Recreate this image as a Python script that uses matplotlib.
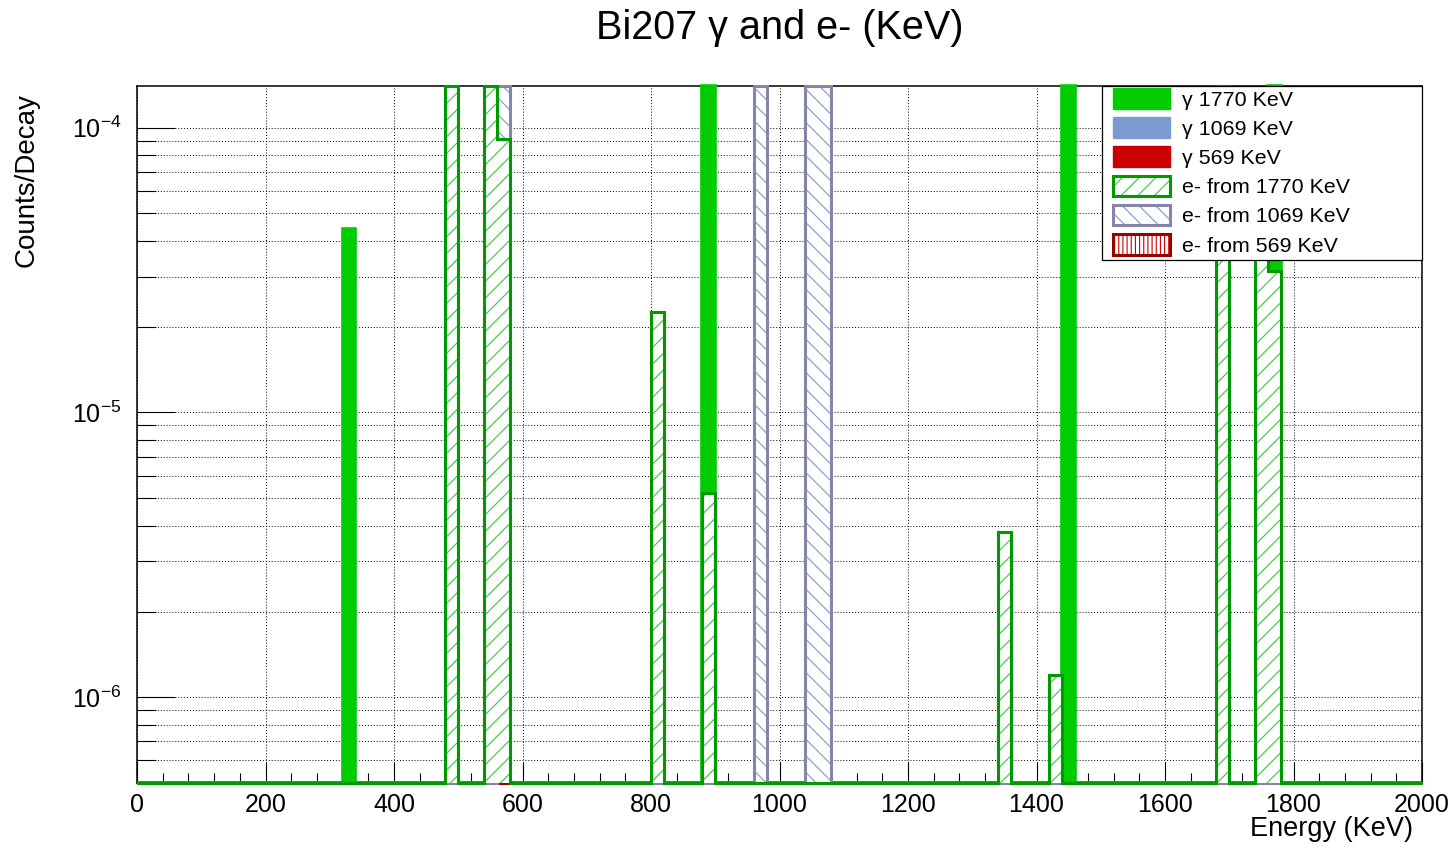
import numpy as np
import matplotlib.pyplot as plt
from matplotlib.patches import Patch, Rectangle
from matplotlib.legend_handler import HandlerTuple
from matplotlib.ticker import MultipleLocator, LogLocator, NullFormatter

plt.rcParams['font.family'] = ['Liberation Sans', 'DejaVu Sans']
plt.rcParams['mathtext.fontset'] = 'custom'
plt.rcParams['mathtext.rm'] = 'Liberation Sans'
plt.rcParams['hatch.linewidth'] = 0.8

# binning of the histograms (KeV)
bin_width = 20
e_max = 2000
ymin, ymax = 5e-7, 1.4e-4

# counts/decay, keyed by lower bin edge (KeV); values above ymax are off scale
g1770_bins = [320, 880, 1440, 1760]
g1770_vals = [4.4e-5, 3e-4, 3e-4, 3e-4]
g1069_bins = []
g1069_vals = []
g569_bins = []
g569_vals = []
e1770_bins = [480, 540, 560, 800, 880, 1340, 1420, 1680, 1740, 1760]
e1770_vals = [3e-4, 3e-4, 9.1e-5, 2.26e-5, 5.2e-6, 3.8e-6, 1.2e-6, 3e-4, 8e-5, 3.15e-5]
e1069_bins = [560, 960, 1040, 1060]
e1069_vals = [3e-4, 3e-4, 3e-4, 3e-4]
e569_bins = []
e569_vals = []

labels = ['γ 1770 KeV', 'γ 1069 KeV', 'γ 569 KeV',
          'e- from 1770 KeV', 'e- from 1069 KeV', 'e- from 569 KeV']

edges = np.arange(0, e_max + bin_width, bin_width)


def hist(bins, vals):
    h = np.zeros(len(edges) - 1)
    h[np.asarray(bins, dtype=int) // bin_width] = vals
    # root draws empty / off-scale bins on the frame
    return np.clip(h, ymin, ymax)


fig = plt.figure(figsize=(14.56, 8.48), dpi=100)
ax = fig.add_axes([137 / 1456, 1 - 783 / 848, 1285 / 1456, 697 / 848])
ax.set_yscale('log')
ax.set_xlim(0, e_max)
ax.set_ylim(ymin, ymax)


def draw_filled(h, color, z):
    ax.stairs(h, edges, baseline=ymin, fill=True, facecolor=color,
              linewidth=0, zorder=z, clip_on=False)
    ax.stairs(h, edges, baseline=ymin, fill=False, edgecolor=color,
              linewidth=2.6, zorder=z, clip_on=False)


def draw_hatched(h, line_color, hatch_color, hatch, z):
    ax.stairs(h, edges, baseline=ymin, fill=True, facecolor='white',
              linewidth=0, zorder=z, clip_on=False)
    ax.stairs(h, edges, baseline=ymin, fill=True, facecolor='none',
              edgecolor=hatch_color, hatch=hatch, linewidth=0, zorder=z, clip_on=False)
    ax.stairs(h, edges, baseline=ymin, fill=False, edgecolor=line_color,
              linewidth=2.2, zorder=z, clip_on=False)


green, green_dk, green_lt = '#00cc00', '#009900', '#33cc33'
blue, blue_line = '#7b9acf', '#8585a8'
red, red_dk = '#cc0000', '#990000'

draw_filled(hist(g1069_bins, g1069_vals), blue, 2.0)
draw_filled(hist(g569_bins, g569_vals), red, 2.1)
draw_filled(hist(g1770_bins, g1770_vals), green, 2.2)
draw_hatched(hist(e569_bins, e569_vals), red_dk, red, '||||', 2.3)
draw_hatched(hist(e1069_bins, e1069_vals), blue_line, blue, '\\\\', 2.4)
draw_hatched(hist(e1770_bins, e1770_vals), green_dk, green_lt, '//', 2.5)

# axes, ticks, grid
ax.set_axisbelow(True)
for s in ax.spines.values():
    s.set_zorder(1.5)
    s.set_linewidth(1.1)
ax.xaxis.set_major_locator(MultipleLocator(200))
ax.xaxis.set_minor_locator(MultipleLocator(40))
ax.yaxis.set_major_locator(LogLocator(base=10))
ax.yaxis.set_minor_locator(LogLocator(base=10, subs=np.arange(2, 10)))
ax.yaxis.set_minor_formatter(NullFormatter())
ax.tick_params(which='both', direction='in', width=0.8, labelsize=18)
ax.tick_params(axis='x', which='major', length=15, pad=7)
ax.tick_params(axis='x', which='minor', length=7.5)
ax.tick_params(axis='y', which='major', length=27.7, pad=11)
ax.tick_params(axis='y', which='minor', length=13.9)
ax.grid(axis='x', which='major', linestyle=(0, (1, 2)), color='black', linewidth=0.7)
ax.grid(axis='y', which='both', linestyle=(0, (1, 2)), color='black', linewidth=0.7)

ax.set_xlabel('Energy (KeV)', fontsize=19.5, loc='right')
ax.xaxis.set_label_coords(0.993, -0.047)
ax.set_ylabel('Counts/Decay', fontsize=20, loc='top')
ax.yaxis.set_label_coords(-0.0755, 0.99)

fig.text(779.5 / 1456, 1 - 39 / 848, 'Bi207 γ and e- (KeV)', ha='center',
         va='baseline', fontsize=28.5)

# legend
ax.add_patch(Rectangle((0.751, 1 - 174 / 697), 0.249, 174 / 697, transform=ax.transAxes,
                       facecolor='white', edgecolor='black', linewidth=0.9,
                       zorder=4, clip_on=False))
handles = [
    Patch(facecolor=green, edgecolor=green, linewidth=1),
    Patch(facecolor=blue, edgecolor=blue, linewidth=1),
    Patch(facecolor=red, edgecolor=red, linewidth=1),
    (Patch(facecolor='white', edgecolor=green_lt, hatch='//', linewidth=0),
     Patch(facecolor='none', edgecolor=green_dk, linewidth=2.2)),
    (Patch(facecolor='white', edgecolor=blue, hatch='\\\\', linewidth=0),
     Patch(facecolor='none', edgecolor=blue_line, linewidth=2.2)),
    (Patch(facecolor='white', edgecolor=red, hatch='||||', linewidth=0),
     Patch(facecolor='none', edgecolor=red_dk, linewidth=2.2)),
]
leg = ax.legend(handles, labels, loc='upper left',
                bbox_to_anchor=(0.751 + 11 / 1285, 1 - 2 / 697),
                borderaxespad=0, borderpad=0, frameon=False, fontsize=15.4,
                handlelength=2.66, handleheight=1.1, handletextpad=0.56,
                labelspacing=0.36, handler_map={tuple: HandlerTuple(ndivide=1, pad=0)})
leg.set_zorder(5)

fig.savefig('out.png', dpi=100)
